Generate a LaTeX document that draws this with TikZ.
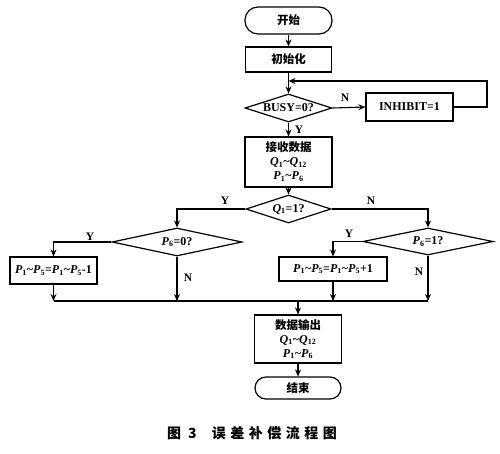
\documentclass[tikz,border=0pt]{standalone}
\usepackage{fontspec}
\setmainfont{Liberation Serif}
\newfontfamily\cjk{Noto Sans CJK SC}
\usetikzlibrary{shapes.geometric,arrows.meta}
\newcommand\vv[2]{\textit{#1}\textsubscript{#2}}
\begin{document}
\begin{tikzpicture}[x=1pt,y=-1pt,
  term/.style={draw, rounded corners=11pt, line width=1.2pt, inner sep=0pt, font=\cjk\bfseries\fontsize{11.5}{13}\selectfont},
  proc/.style={draw, line width=1.2pt, inner sep=0pt, align=center, font=\bfseries\fontsize{12}{14}\selectfont},
  dec/.style={draw, diamond, aspect=3, inner sep=0pt, line width=1.2pt, font=\bfseries\fontsize{12}{13}\selectfont},
  lbl/.style={font=\bfseries\fontsize{11.5}{12}\selectfont, inner sep=0pt},
  arr/.style={-{Stealth[length=7pt,width=6pt]}, line width=1.1pt},
  ln/.style={line width=1.1pt}]
\useasboundingbox (0,0) rectangle (500,453);
\fill[white] (0,0) rectangle (500,453);

\node[term, minimum width=87pt, minimum height=27pt, rounded corners=13pt] (start) at (288.5,20.5) {开始};
\node[proc, minimum width=86pt, minimum height=25pt] (init) at (288.5,59.5) {\cjk\bfseries\fontsize{11.5}{13}\selectfont 初始化};
\node[dec, minimum width=87pt, minimum height=28pt] (busy) at (288.5,108) {BUSY=0?};
\node[proc, minimum width=87pt, minimum height=28pt] (inhibit) at (409.5,107) {INHIBIT=1};
\node[proc, minimum width=87pt, minimum height=50pt] (recv) at (288.5,162) {{\cjk\bfseries\fontsize{11.5}{13}\selectfont 接收数据}\\\vv{Q}{1}\textasciitilde\vv{Q}{12}\\\vv{P}{1}\textasciitilde\vv{P}{6}};
\node[dec, minimum width=85pt, minimum height=28pt] (q1) at (288.5,209) {\vv{Q}{1}=1?};
\node[dec, minimum width=130pt, minimum height=28pt] (p0) at (177,242) {\vv{P}{6}=0?};
\node[dec, minimum width=130pt, minimum height=27pt] (p1) at (428,241.5) {\vv{P}{6}=1?};
\node[proc, minimum width=87pt, minimum height=27pt] (lbox) at (53.5,270.5) {\vv{P}{1}\textasciitilde\vv{P}{5}=\vv{P}{1}\textasciitilde\vv{P}{5}-1};
\node[proc, minimum width=108pt, minimum height=24pt] (rbox) at (333,269) {\vv{P}{1}\textasciitilde\vv{P}{5}=\vv{P}{1}\textasciitilde\vv{P}{5}+1};
\node[proc, minimum width=87pt, minimum height=48pt] (out) at (298,339) {{\cjk\bfseries\fontsize{11.5}{13}\selectfont 数据输出}\\\vv{Q}{1}\textasciitilde\vv{Q}{12}\\\vv{P}{1}\textasciitilde\vv{P}{6}};
\node[term, minimum width=86pt, minimum height=22pt] (end) at (298,388) {结束};
\node[font=\cjk\bfseries\fontsize{14}{15}\selectfont, inner sep=0pt] (cap) at (252,433) {图\hspace{7pt}3\hspace{15pt}误\hspace{4.5pt}差\hspace{4.5pt}补\hspace{4.5pt}偿\hspace{4.5pt}流\hspace{4.5pt}程\hspace{4.5pt}图};

\coordinate (loop) at (288.5,81);
\coordinate (rt) at (487,81);
\coordinate (m1) at (53.5,301);
\coordinate (m2) at (177,301);
\coordinate (m3) at (333,301);
\coordinate (m4) at (428,301);
\coordinate (m0) at (298,301);

\draw[arr] (start) -- (init);
\draw[arr] (init) -- (busy);
\draw[arr] (inhibit.east) -| (rt) -- (loop);
\draw[arr] (busy.east) -- (inhibit.west);
\draw[arr] (busy) -- (recv);
\draw[arr] (recv) -- (q1);
\draw[arr] (q1.west) -| (p0.north);
\draw[arr] (q1.east) -| (p1.north);
\draw[arr] (p0.west) -| (lbox.north);
\draw[arr] (p1.west) -| (rbox.north);
\draw[arr] (lbox) -- (m1);
\draw[arr] (p0) -- (m2);
\draw[arr] (rbox) -- (m3);
\draw[arr] (p1) -- (m4);
\draw[ln] (m1) -- (m4);
\draw[arr] (m0) -- (out);
\draw[arr] (out) -- (end);

\node[lbl] (lN1) at (345,98) {N};
\node[lbl] (lY1) at (299,130) {Y};
\node[lbl] (lY2) at (225,201) {Y};
\node[lbl] (lN2) at (371,201) {N};
\node[lbl] (lY3) at (90,237) {Y};
\node[lbl] (lN3) at (188,278) {N};
\node[lbl] (lY4) at (349,234) {Y};
\node[lbl] (lN4) at (419,272) {N};
\end{tikzpicture}
\end{document}
